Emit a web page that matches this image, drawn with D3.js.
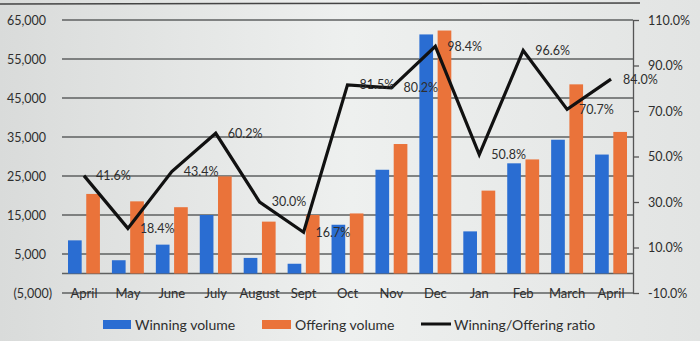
<!DOCTYPE html>
<html>
<head>
<meta charset="utf-8">
<script src="https://cdn.jsdelivr.net/npm/d3@7"></script>
<style>
  html, body { margin: 0; padding: 0; background: #e6e8e7; }
  svg { display: block; }
  text { font-family: Lato, "Open Sans", sans-serif; fill: #2e2e2e; }
</style>
</head>
<body>
<svg id="chart" width="700" height="341"></svg>
<script>
// ---- data ----
const months = ["April", "May", "June", "July", "August", "Sept", "Oct", "Nov", "Dec", "Jan", "Feb", "March", "April"];
const winningVolume = [8500, 3400, 7400, 15000, 4000, 2500, 12500, 26600, 61300, 10800, 28250, 34300, 30500];
const offeringVolume = [20400, 18500, 17000, 24900, 13300, 15000, 15400, 33200, 62300, 21250, 29250, 48500, 36300];
const ratio = [41.6, 18.4, 43.4, 60.2, 30.0, 16.7, 81.5, 80.2, 98.4, 50.8, 96.6, 70.7, 84.0];
const leftTicks = [-5000, 5000, 15000, 25000, 35000, 45000, 55000, 65000];
const rightTicks = [-10, 10, 30, 50, 70, 90, 110];
const seriesNames = ["Winning volume", "Offering volume", "Winning/Offering ratio"];

// ---- setup ----
const svg = d3.select("#chart");
const W = 700, H = 341;
const plotL = 62, plotR = 633, plotT = 20, plotB = 293;
const blue = "#2a6dd2", orange = "#ea733a";

const defs = svg.append("defs");
const bg = defs.append("linearGradient").attr("id", "bg").attr("x1", "0").attr("x2", "1").attr("y1", "0").attr("y2", "0");
bg.append("stop").attr("offset", "0").attr("stop-color", "#d9dbda");
bg.append("stop").attr("offset", "0.5").attr("stop-color", "#eef0ef");
bg.append("stop").attr("offset", "1").attr("stop-color", "#e2e4e3");
svg.append("rect").attr("width", W).attr("height", H).attr("fill", "url(#bg)");

// top border line visible in the photo
svg.append("line").attr("x1", 0).attr("x2", 640).attr("y1", 4).attr("y2", 3)
  .attr("stroke", "#444").attr("stroke-width", 1.5);

const idx = months.map((d, i) => i);
const x0 = d3.scaleBand().domain(idx).range([plotL, plotR]).padding(0);
const x1 = d3.scaleBand().domain([0, 1]).range([6, x0.bandwidth() - 6]).paddingInner(0.25);
const yL = d3.scaleLinear().domain([-5000, 65000]).range([plotB, plotT]);
const yR = d3.scaleLinear().domain([-10, 110]).range([plotB, plotT]);

// gridlines
svg.append("g").selectAll("line").data(leftTicks.concat([0])).join("line")
  .attr("x1", plotL).attr("x2", plotR)
  .attr("y1", d => yL(d)).attr("y2", d => yL(d))
  .attr("stroke", "#5e6060").attr("stroke-width", 1.3);

// left axis labels
const fmt = d3.format(",");
const gL = svg.append("g").attr("transform", `translate(52,0)`)
  .call(d3.axisLeft(yL).tickValues(leftTicks).tickSize(0).tickPadding(0)
    .tickFormat(d => d < 0 ? "(" + fmt(-d) + ")" : fmt(d)));
gL.select(".domain").remove();
gL.selectAll("text").attr("font-size", 12.5).attr("font-family", "Lato, sans-serif").attr("fill", "#2e2e2e")
  .attr("dx", d => d < 0 ? 0 : -6);

// bars
const groups = svg.append("g").selectAll("g").data(idx).join("g")
  .attr("transform", i => `translate(${x0(i)},0)`);
groups.append("rect")
  .attr("x", x1(0)).attr("width", x1.bandwidth())
  .attr("y", i => yL(winningVolume[i])).attr("height", i => yL(0) - yL(winningVolume[i]))
  .attr("fill", blue);
groups.append("rect")
  .attr("x", x1(1)).attr("width", x1.bandwidth())
  .attr("y", i => yL(offeringVolume[i])).attr("height", i => yL(0) - yL(offeringVolume[i]))
  .attr("fill", orange);

// category labels on the low gridline
const gX = svg.append("g").attr("transform", `translate(0,${yL(-5000)})`)
  .call(d3.axisBottom(x0).tickSize(0).tickFormat(i => months[i]));
gX.select(".domain").remove();
gX.selectAll("text").attr("y", 0).attr("dy", "0.38em").attr("font-size", 13)
  .attr("font-family", "Lato, sans-serif").attr("fill", "#2e2e2e");

// right axis
const gR = svg.append("g").attr("transform", `translate(${plotR},0)`)
  .call(d3.axisRight(yR).tickValues(rightTicks).tickSize(6).tickSizeOuter(0).tickPadding(9)
    .tickFormat(d => d.toFixed(1) + "%"));
gR.select(".domain").attr("stroke", "#555").attr("stroke-width", 1.3);
gR.selectAll(".tick line").attr("stroke", "#555").attr("stroke-width", 1.3);
gR.selectAll("text").attr("font-size", 12.5).attr("font-family", "Lato, sans-serif").attr("fill", "#2e2e2e");

// ratio line
const cx = i => x0(i) + x0.bandwidth() / 2;
const line = d3.line().x(i => cx(i)).y(i => yR(ratio[i]));
svg.append("path").datum(idx).attr("d", line)
  .attr("fill", "none").attr("stroke", "#111").attr("stroke-width", 3.2).attr("stroke-linejoin", "miter");

svg.append("g").selectAll("text").data(idx).join("text")
  .attr("x", i => cx(i) + 12).attr("y", i => yR(ratio[i]))
  .attr("dy", "0.35em").attr("font-size", 12.5)
  .text(i => ratio[i].toFixed(1) + "%");

// legend
const lg = svg.append("g");
lg.append("rect").attr("x", 103).attr("y", 320).attr("width", 28).attr("height", 9).attr("fill", blue);
lg.append("text").attr("x", 135).attr("y", 325).attr("dy", "0.35em").attr("font-size", 14).text(seriesNames[0]);
lg.append("rect").attr("x", 262).attr("y", 320).attr("width", 29).attr("height", 9).attr("fill", orange);
lg.append("text").attr("x", 295).attr("y", 325).attr("dy", "0.35em").attr("font-size", 14).text(seriesNames[1]);
lg.append("line").attr("x1", 421).attr("x2", 451).attr("y1", 324).attr("y2", 324).attr("stroke", "#111").attr("stroke-width", 3);
lg.append("text").attr("x", 454).attr("y", 325).attr("dy", "0.35em").attr("font-size", 14).text(seriesNames[2]);
</script>
</body>
</html>
